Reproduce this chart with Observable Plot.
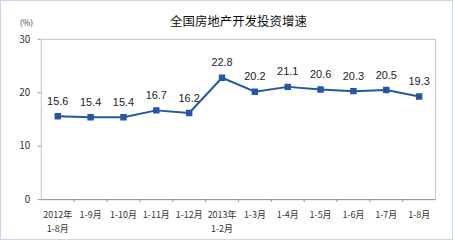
<!DOCTYPE html>
<html><head><meta charset="utf-8">
<script src="https://cdn.jsdelivr.net/npm/d3@7"></script>
<script src="https://cdn.jsdelivr.net/npm/@observablehq/plot@0.6"></script>
<style>
html,body{margin:0;padding:0;background:#fff;}
#wrap{position:relative;width:451px;height:238px;border:1px solid #c8d6ea;overflow:visible;}
#wrap svg{position:absolute;left:-1px;top:-1px;}
</style></head>
<body><div id="wrap"></div>
<script>
const categories = ["2012年\n1-8月","1-9月","1-10月","1-11月","1-12月","2013年\n1-2月","1-3月","1-4月","1-5月","1-6月","1-7月","1-8月"];
const values = [15.6, 15.4, 15.4, 16.7, 16.2, 22.8, 20.2, 21.1, 20.6, 20.3, 20.5, 19.3];
const yTicks = [0, 10, 20, 30];
const title = "全国房地产开发投资增速";
const unit = "(%)";

const data = categories.map((c, i) => ({i: i + 0.5, label: c, v: values[i]}));
const boundaries = d3.range(1, categories.length);
const font = "'Noto Sans CJK SC', 'Liberation Sans', sans-serif";
const numFont = "'Liberation Sans', Arial, sans-serif";
const blue = "#2458a6";

const chart = Plot.plot({
  width: 453, height: 241,
  marginLeft: 41, marginRight: 16, marginTop: 39, marginBottom: 41,
  style: {fontFamily: font, fontSize: "9px", color: "#333", background: "transparent"},
  x: {type: "linear", domain: [0, categories.length], axis: null},
  y: {domain: [0, 30], axis: null},
  marks: [
    Plot.frame({stroke: "#c4c4c4"}),
    Plot.axisY({ticks: yTicks, tickSize: 3, tickPadding: 8, stroke: "#999", label: null, fontSize: 10, textAnchor: "end"}),
    Plot.axisX({ticks: boundaries, tickSize: 3, tickFormat: () => "", stroke: "#999", label: null}),
    Plot.axisX({ticks: data.map(d => d.i), tickSize: 0, tickPadding: 9, tickFormat: (t) => categories[Math.floor(t)], label: null, fontSize: 9, lineHeight: 1.5}),
    Plot.ruleY([0], {stroke: "#999"}),
    Plot.line(data, {x: "i", y: "v", stroke: blue, strokeWidth: 2}),
    Plot.dot(data, {x: "i", y: "v", symbol: "square", r: 2.8, fill: blue, stroke: blue}),
    Plot.text(data, {x: "i", y: "v", text: d => d.v.toFixed(1), dy: -15, fontSize: 11, fill: "#222", fontFamily: numFont}),
    Plot.text([title], {frameAnchor: "top", dy: -22, fontSize: 12.5, fill: "#111", text: d => d}),
    Plot.text([unit], {frameAnchor: "top-left", textAnchor: "middle", dx: -15, dy: -19, fontSize: 8.5, fill: "#444", text: d => d})
  ]
});
document.getElementById("wrap").appendChild(chart);
</script></body></html>
